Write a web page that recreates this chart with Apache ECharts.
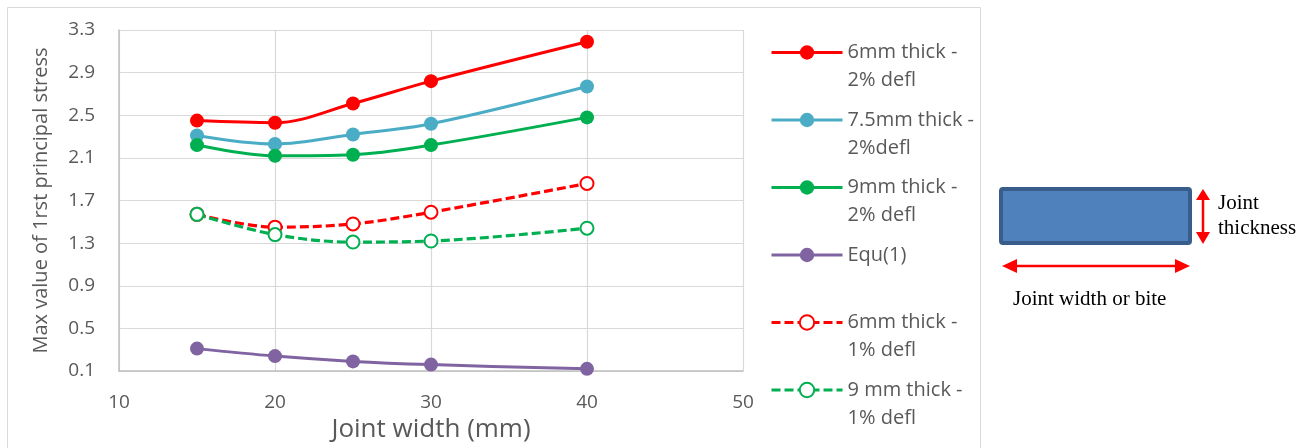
<!DOCTYPE html>
<html><head><meta charset="utf-8">
<script src="https://cdn.jsdelivr.net/npm/echarts@6/dist/echarts.min.js"></script>
<style>html,body{margin:0;padding:0;background:#fff}#c{width:1312px;height:448px}</style>
</head><body><div id="c"></div>
<script>
const widths = [15, 20, 25, 30, 40];
const s6mm2 = [2.45, 2.43, 2.61, 2.82, 3.19];
const s75mm2 = [2.31, 2.23, 2.32, 2.42, 2.77];
const s9mm2 = [2.22, 2.12, 2.13, 2.22, 2.48];
const sEqu1 = [0.31, 0.24, 0.19, 0.16, 0.12];
const s6mm1 = [1.57, 1.45, 1.48, 1.59, 1.86];
const s9mm1 = [1.57, 1.38, 1.31, 1.32, 1.44];
const names = ['6mm thick - 2% defl', '7.5mm thick - 2%defl', '9mm thick - 2% defl', 'Equ(1)', '6mm thick - 1% defl', '9 mm thick - 1% defl'];
const legendLines = {
  '6mm thick - 2% defl': ['6mm thick -', '2% defl'],
  '7.5mm thick - 2%defl': ['7.5mm thick -', '2%defl'],
  '9mm thick - 2% defl': ['9mm thick -', '2% defl'],
  'Equ(1)': ['Equ(1)', ' '],
  '6mm thick - 1% defl': ['6mm thick -', '1% defl'],
  '9 mm thick - 1% defl': ['9 mm thick -', '1% defl']
};
const xTicks = [10, 20, 30, 40, 50];
const yTicks = [0.1, 0.5, 0.9, 1.3, 1.7, 2.1, 2.5, 2.9, 3.3];

const FONT = 'Open Sans';
const pair = arr => widths.map((w, i) => [w, arr[i]]);
function solid(name, arr, color) {
  return { name, type: 'line', data: pair(arr), smooth: 0.35, symbol: 'circle', symbolSize: 14,
    lineStyle: { color, width: 3 }, itemStyle: { color }, z: 3 };
}
function dashed(name, arr, color) {
  return { name, type: 'line', data: pair(arr), smooth: 0.35, symbol: 'emptyCircle', symbolSize: 13,
    lineStyle: { color, width: 3.2, type: [9, 4] }, itemStyle: { color, borderWidth: 1.8 }, z: 4 };
}
const chart = echarts.init(document.getElementById('c'), null, { renderer: 'canvas' });
chart.setOption({
  animation: false,
  backgroundColor: '#fff',
  grid: { left: 119, top: 30, right: 569, bottom: 76 },
  xAxis: {
    type: 'value', min: xTicks[0], max: xTicks[xTicks.length - 1], interval: 10,
    name: 'Joint width (mm)', nameLocation: 'middle', nameGap: 46,
    nameTextStyle: { fontFamily: FONT, fontSize: 26, color: '#595959' },
    axisLine: { show: true, lineStyle: { color: '#bfbfbf', width: 1.5 } },
    axisTick: { show: false },
    axisLabel: { fontFamily: FONT, fontSize: 19, color: '#595959', margin: 22 },
    splitLine: { show: true, lineStyle: { color: '#d9d9d9', width: 1.2 } }
  },
  yAxis: {
    type: 'value', min: yTicks[0], max: yTicks[yTicks.length - 1], interval: 0.4,
    name: 'Max value of 1rst principal stress', nameLocation: 'middle', nameGap: 68,
    nameTextStyle: { fontFamily: FONT, fontSize: 20, color: '#595959' },
    axisLine: { show: true, lineStyle: { color: '#bfbfbf', width: 1.5 } },
    axisTick: { show: false },
    axisLabel: { fontFamily: FONT, fontSize: 19, color: '#595959', margin: 24, formatter: v => v.toFixed(1) },
    splitLine: { show: true, lineStyle: { color: '#d9d9d9', width: 1.2 } }
  },
  legend: {
    orient: 'vertical', left: 765, top: 5.5, itemWidth: 71, itemHeight: 18, itemGap: -16.5,
    data: names,
    formatter: n => '\n' + legendLines[n].join('\n'),
    lineStyle: { width: 3 },
    textStyle: { fontFamily: FONT, fontSize: 20, color: '#595959', lineHeight: 28 }
  },
  series: [
    solid(names[0], s6mm2, '#ff0000'),
    solid(names[1], s75mm2, '#4bacc6'),
    solid(names[2], s9mm2, '#00b050'),
    solid(names[3], sEqu1, '#8064a2'),
    dashed(names[4], s6mm1, '#ff0000'),
    dashed(names[5], s9mm1, '#00b050')
  ],
  graphic: [
    { type: 'rect', shape: { x: 7.5, y: 7.5, width: 973, height: 460 }, style: { fill: 'none', stroke: '#d9d9d9', lineWidth: 1 }, silent: true, z: -1 },
    { type: 'rect', shape: { x: 1001, y: 189, width: 189, height: 54, r: 2 }, style: { fill: '#4f81bd', stroke: '#385d8a', lineWidth: 4 } },
    { type: 'line', shape: { x1: 1203, y1: 196, x2: 1203, y2: 236 }, style: { stroke: '#ff0000', lineWidth: 2.5 } },
    { type: 'polygon', shape: { points: [[1196, 200], [1210, 200], [1203, 189]] }, style: { fill: '#ff0000' } },
    { type: 'polygon', shape: { points: [[1196, 232], [1210, 232], [1203, 244]] }, style: { fill: '#ff0000' } },
    { type: 'line', shape: { x1: 1010, y1: 266, x2: 1182, y2: 266 }, style: { stroke: '#ff0000', lineWidth: 2.5 } },
    { type: 'polygon', shape: { points: [[1002, 266], [1017, 259], [1017, 273]] }, style: { fill: '#ff0000' } },
    { type: 'polygon', shape: { points: [[1190, 266], [1175, 259], [1175, 273]] }, style: { fill: '#ff0000' } },
    { type: 'text', left: 1218, top: 191, style: { text: 'Joint\nthickness', font: '21px "Liberation Serif"', fill: '#000', lineHeight: 25 } },
    { type: 'text', left: 1013, top: 287, style: { text: 'Joint width or bite', font: '21px "Liberation Serif"', fill: '#000', lineHeight: 24 } }
  ]
});
</script></body></html>
